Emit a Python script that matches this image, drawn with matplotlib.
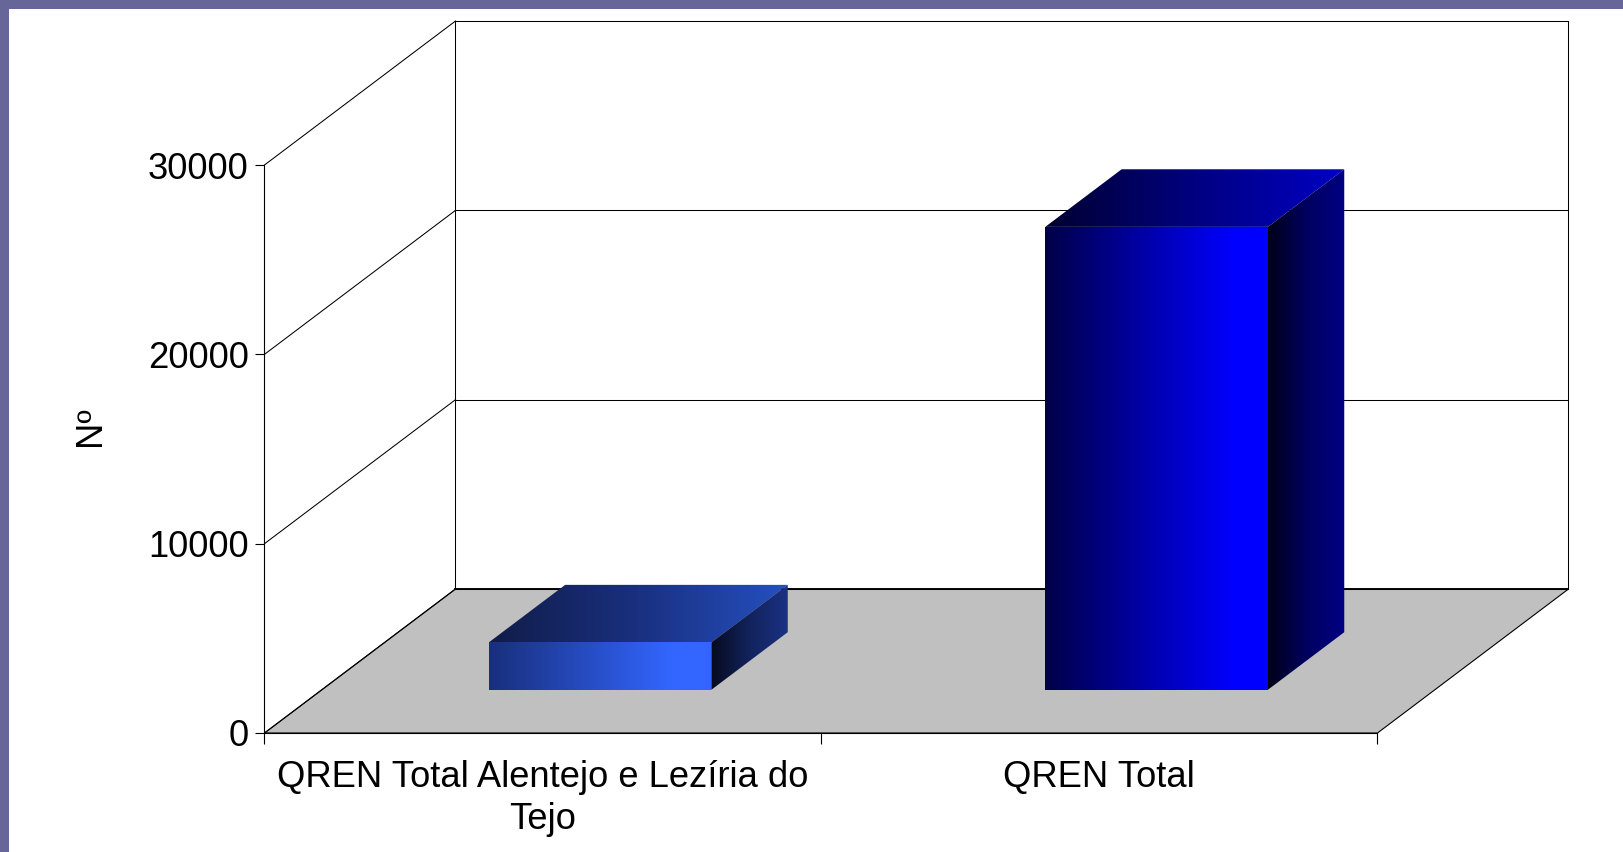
import numpy as np
import matplotlib
matplotlib.use('Agg')
import matplotlib.pyplot as plt
from matplotlib.colors import LinearSegmentedColormap
from matplotlib.patches import Polygon, Rectangle

plt.rcParams['font.family'] = ['Liberation Sans', 'DejaVu Sans']

# data
categories = ['QREN Total Alentejo e Lezíria do\nTejo', 'QREN Total']
values = [2500, 24450]
y_ticks = [0, 10000, 20000, 30000]
y_label = 'Nº'

# gradient colours for each bar: (front, top, side)
bar_colors = [
    ([(0, '#182f7c'), (0.82, '#3366ff'), (1, '#3366ff')],
     [(0, '#101c48'), (0.5, '#1a3080'), (1, '#2450c0')],
     [(0, '#060b1e'), (0.5, '#12235c'), (1, '#1b3184')]),
    ([(0, '#000048'), (0.85, '#0000ff'), (1, '#0000ff')],
     [(0, '#000030'), (0.5, '#000080'), (1, '#0000c4')],
     [(0, '#000018'), (0.5, '#000060'), (1, '#000084')]),
]

# oblique projection of the 3D box, in category units and value units
DEPTH_X = 191 / 556.5
DEPTH_Y = 144 / 568 * 30000
BAR_WIDTH = 0.4
BAR_D0 = 0.3
BAR_D1 = 0.7


def project(x, v, d):
    """Move a point (category pos, value, depth 0-1) onto the front plane."""
    return (x + d * DEPTH_X, v + d * DEPTH_Y)


def gradient_face(ax, corners, colors, zorder):
    """Draw one bar face as a horizontal gradient clipped to its outline."""
    cmap = LinearSegmentedColormap.from_list('face', colors)
    xs = [c[0] for c in corners]
    ys = [c[1] for c in corners]
    grad = np.linspace(0, 1, 256).reshape(1, -1)
    im = ax.imshow(grad, cmap=cmap, aspect='auto', interpolation='bilinear',
                   extent=(min(xs), max(xs), min(ys), max(ys)), zorder=zorder,
                   clip_on=True)
    outline = Polygon(corners, closed=True, transform=ax.transData)
    im.set_clip_path(outline)


fig = plt.figure(figsize=(16.24, 8.52), dpi=100, facecolor='white')

# slide frame
frame = '#666699'
fig.add_artist(Rectangle((0, 1 - 9 / 852), 1, 9 / 852, transform=fig.transFigure,
                         facecolor=frame, edgecolor='none'))
fig.add_artist(Rectangle((0, 0), 9 / 1624, 1, transform=fig.transFigure,
                         facecolor=frame, edgecolor='none'))

ax = fig.add_axes([264.5 / 1624, 1 - 733 / 852, 1113 / 1624, 568 / 852])
ax.patch.set_visible(False)
n = len(categories)
y_max = y_ticks[-1]

# floor
floor = [project(0, 0, 0), project(n, 0, 0), project(n, 0, 1), project(0, 0, 1)]
ax.add_patch(Polygon(floor, closed=True, facecolor='#c0c0c0', edgecolor='black',
                     linewidth=0.8, clip_on=False, zorder=1))

# walls and gridlines
for v in y_ticks:
    x0, y0 = project(0, v, 1)
    x1, y1 = project(n, v, 1)
    ax.plot([0, x0], [v, y0], color='black', lw=0.75, clip_on=False, zorder=2)
    ax.plot([x0, x1], [y0, y1], color='black', lw=0.75, clip_on=False, zorder=2)
x0, y0 = project(0, 0, 1)
x1, y1 = project(n, 0, 1)
ax.plot([x0, x1], [y0, y1], color='black', lw=1.3, clip_on=False, zorder=2)
ax.plot([x0, x0], [y0, project(0, y_max, 1)[1]], color='black', lw=0.75, clip_on=False, zorder=2)
ax.plot([x1, x1], [y0, project(n, y_max, 1)[1]], color='black', lw=0.75, clip_on=False, zorder=2)

# bars
for i, v in enumerate(values):
    left = i + 0.5 - BAR_WIDTH / 2
    right = i + 0.5 + BAR_WIDTH / 2
    front_c, top_c, side_c = bar_colors[i]
    front = [project(left, 0, BAR_D0), project(right, 0, BAR_D0),
             project(right, v, BAR_D0), project(left, v, BAR_D0)]
    top = [project(left, v, BAR_D0), project(right, v, BAR_D0),
           project(right, v, BAR_D1), project(left, v, BAR_D1)]
    side = [project(right, 0, BAR_D0), project(right, 0, BAR_D1),
            project(right, v, BAR_D1), project(right, v, BAR_D0)]
    gradient_face(ax, top, top_c, 3)
    gradient_face(ax, side, side_c, 3)
    gradient_face(ax, front, front_c, 4)

ax.set_xlim(0, n)
ax.set_ylim(0, y_max)

for name in ['top', 'right']:
    ax.spines[name].set_visible(False)
for name in ['left', 'bottom']:
    ax.spines[name].set_linewidth(0.8)
    ax.spines[name].set_zorder(2.5)

ax.set_yticks(y_ticks)
ax.set_yticklabels([str(t) for t in y_ticks])
ax.set_xticks(np.arange(n + 1))
ax.set_xticklabels([])
ax.set_xticks(np.arange(n) + 0.5, minor=True)
ax.set_xticklabels(categories, minor=True, linespacing=1.27)
ax.tick_params(axis='y', length=6.5, width=0.8, labelsize=26.2, pad=5)
ax.tick_params(axis='x', which='major', length=8, width=0.8)
ax.tick_params(axis='x', which='minor', length=0, labelsize=26.2, pad=19.3)
ax.set_ylabel(y_label, fontsize=26.2, labelpad=28.5, y=0.54)

fig.savefig('out.png', dpi=100, facecolor='white')
